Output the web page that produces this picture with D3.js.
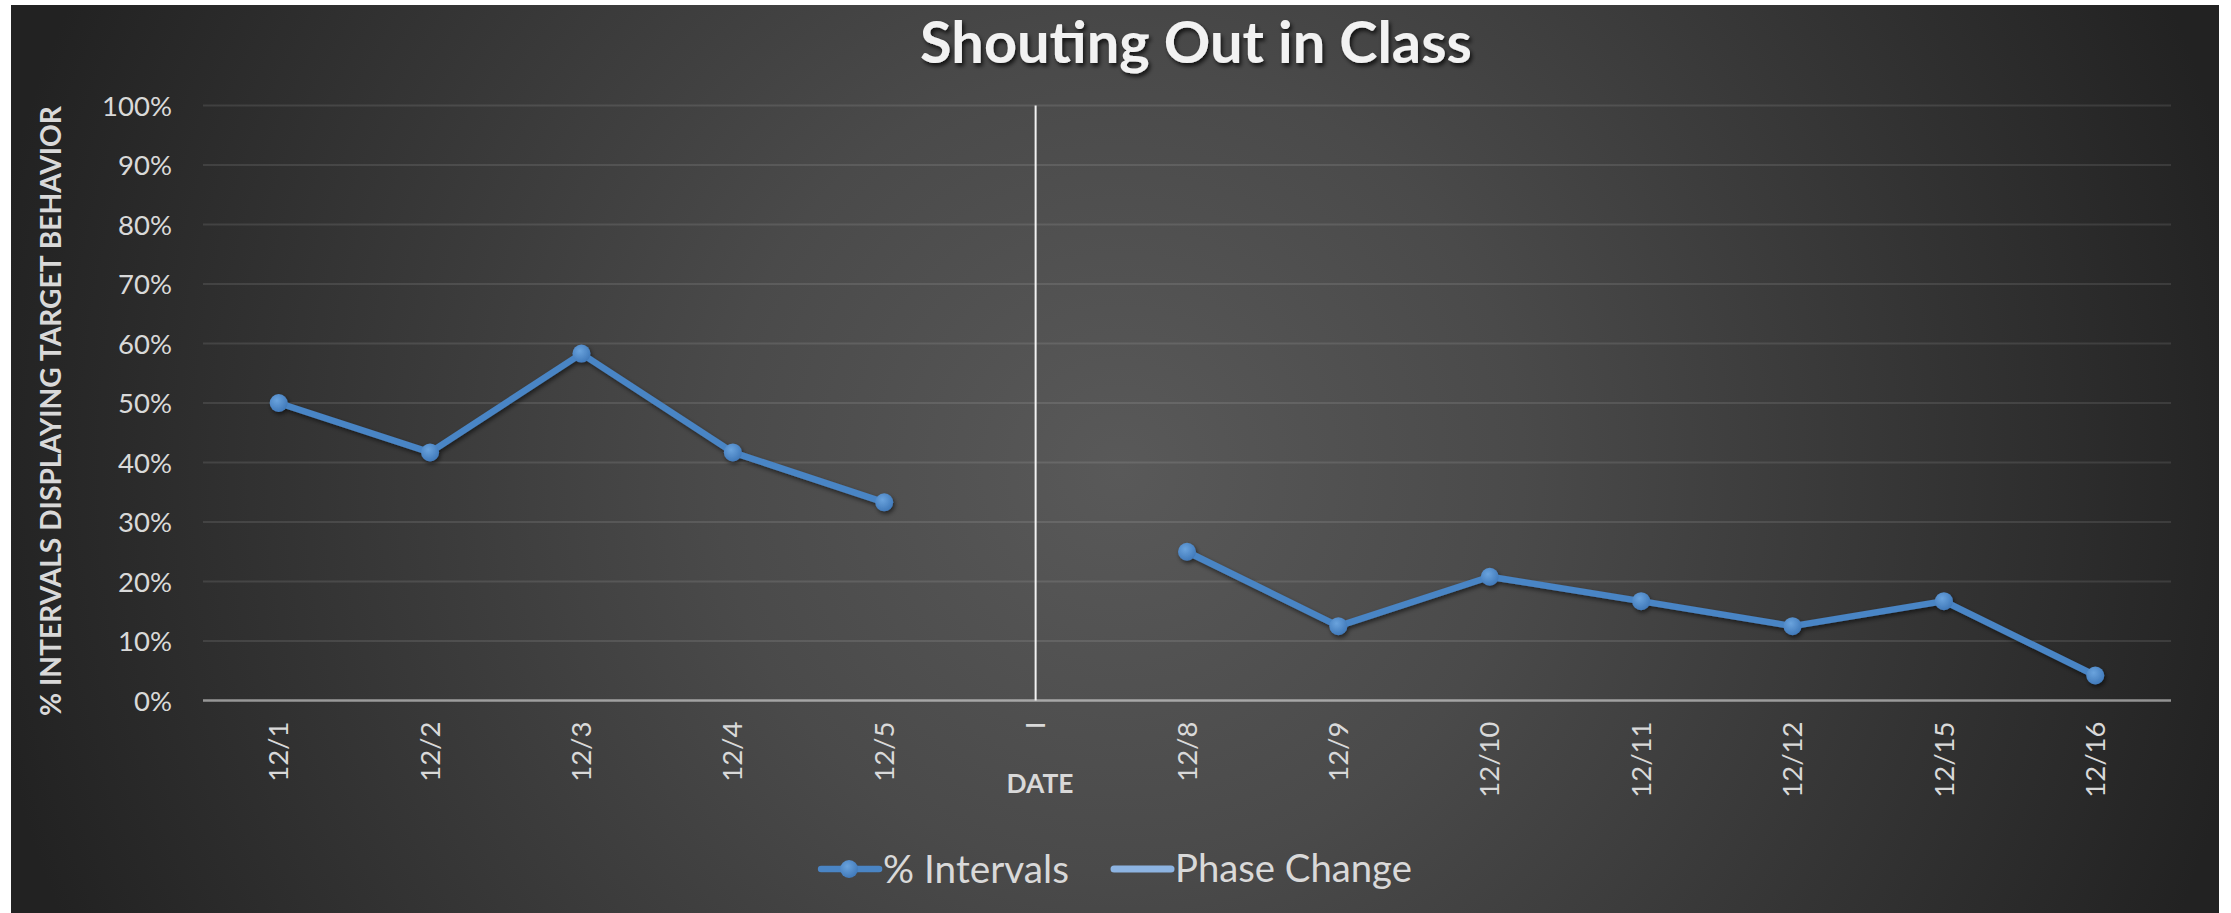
<!DOCTYPE html>
<html><head><meta charset="utf-8">
<script src="https://cdn.jsdelivr.net/npm/d3@7/dist/d3.min.js"></script>
<style>html,body{margin:0;padding:0;background:#fff;overflow:hidden}</style>
</head><body>
<svg id="chart" width="2231" height="913"></svg>
<script>
// ---------------- data ----------------
const categories = ["12/1","12/2","12/3","12/4","12/5","I","12/8","12/9","12/10","12/11","12/12","12/15","12/16"];
const intervals  = [50, 41.7, 58.3, 41.7, 33.3, null, 25, 12.5, 20.8, 16.7, 12.5, 16.7, 4.2];
const phaseCategory = "I";
const phaseExtent = [0, 100];
const yTicks = [0, 10, 20, 30, 40, 50, 60, 70, 80, 90, 100];
const seriesNames = ["% Intervals", "Phase Change"];
const chartTitle = "Shouting Out in Class";
const xTitle = "DATE";
const yTitle = "% INTERVALS DISPLAYING TARGET BEHAVIOR";

// ---------------- layout ----------------
const FONT = "Lato, 'Open Sans', sans-serif";
const plot = {left: 203, right: 2171, top: 105.5, bottom: 700.5};
const svg = d3.select('#chart');
const defs = svg.append('defs');

const bg = defs.append('radialGradient').attr('id','bg')
  .attr('gradientUnits','userSpaceOnUse').attr('cx',1120).attr('cy',470).attr('r',1150);
bg.append('stop').attr('offset',0).attr('stop-color','#595959');
bg.append('stop').attr('offset',0.35).attr('stop-color','#4a4a4a');
bg.append('stop').attr('offset',1).attr('stop-color','#222222');

const pg = defs.append('radialGradient').attr('id','pt').attr('cx','0.4').attr('cy','0.35').attr('r','0.7');
pg.append('stop').attr('offset',0).attr('stop-color','#6aa3dd');
pg.append('stop').attr('offset',1).attr('stop-color','#3e77b8');

const sh = defs.append('filter').attr('id','shadow').attr('x','-20%').attr('y','-20%').attr('width','140%').attr('height','140%');
sh.append('feDropShadow').attr('dx',1.5).attr('dy',2.5).attr('stdDeviation',2).attr('flood-color','#000').attr('flood-opacity',0.55);
const tsh = defs.append('filter').attr('id','tshadow').attr('x','-10%').attr('y','-30%').attr('width','120%').attr('height','160%');
tsh.append('feDropShadow').attr('dx',2).attr('dy',3).attr('stdDeviation',2.2).attr('flood-color','#000').attr('flood-opacity',0.75);

svg.append('rect').attr('x',11).attr('y',5).attr('width',2208).attr('height',913).attr('fill','url(#bg)');

function fit(sel, target) {
  const fs = parseFloat(sel.attr('font-size'));
  const w = sel.node().getComputedTextLength();
  sel.attr('font-size', fs * target / w);
}

// ---------------- scales ----------------
const x = d3.scaleBand().domain(categories).range([plot.left, plot.right]);
const y = d3.scaleLinear().domain([0, 100]).range([plot.bottom, plot.top]);
const cx = d => x(d) + x.bandwidth() / 2;

// gridlines
svg.append('g').selectAll('line').data(yTicks.filter(t => t > 0)).join('line')
  .attr('x1', plot.left).attr('x2', plot.right)
  .attr('y1', d => y(d)).attr('y2', d => y(d))
  .attr('stroke', 'rgba(255,255,255,0.1)').attr('stroke-width', 2);

// y axis
const yAxis = svg.append('g').attr('transform', `translate(${plot.left},0)`)
  .call(d3.axisLeft(y).tickValues(yTicks).tickFormat(d => d + '%').tickSize(0).tickPadding(31));
yAxis.select('.domain').remove();
yAxis.selectAll('text').attr('font-family', FONT).attr('font-size', 27.5).attr('fill', '#d9d9d9').attr('dy','0.35em');

// x axis
const xAxis = svg.append('g').attr('transform', `translate(0,${plot.bottom})`)
  .call(d3.axisBottom(x).tickSize(0));
xAxis.select('.domain').remove();
xAxis.selectAll('text')
  .attr('font-family', FONT).attr('font-size', 27.5).attr('fill', '#d9d9d9')
  .attr('transform', 'rotate(-90)').attr('text-anchor', 'end')
  .attr('x', -21).attr('y', 0).attr('dy', '0.35em');

svg.append('line').attr('x1', plot.left).attr('x2', plot.right)
  .attr('y1', plot.bottom).attr('y2', plot.bottom)
  .attr('stroke', 'rgba(255,255,255,0.5)').attr('stroke-width', 2.5);

// phase change line
svg.append('line')
  .attr('x1', cx(phaseCategory)).attr('x2', cx(phaseCategory))
  .attr('y1', y(phaseExtent[0])).attr('y2', y(phaseExtent[1]))
  .attr('stroke', '#f2f2f2').attr('stroke-width', 2);

// series
const pts = categories.map((c, i) => ({c, v: intervals[i]}));
const line = d3.line().defined(d => d.v != null).x(d => cx(d.c)).y(d => y(d.v));
const sg = svg.append('g').attr('filter', 'url(#shadow)');
sg.append('path').datum(pts).attr('d', line).attr('fill', 'none')
  .attr('stroke', '#4a85c5').attr('stroke-width', 6.5).attr('stroke-linejoin', 'round');
sg.selectAll('circle').data(pts.filter(d => d.v != null)).join('circle')
  .attr('cx', d => cx(d.c)).attr('cy', d => y(d.v)).attr('r', 9).attr('fill', 'url(#pt)');

// titles
const t = svg.append('text').text(chartTitle).attr('x', 1196).attr('y', 63)
  .attr('text-anchor', 'middle').attr('font-family', FONT).attr('font-weight', 'bold')
  .attr('font-size', 44).attr('fill', '#f2f2f2').attr('filter', 'url(#tshadow)');
fit(t, 552);

const xt = svg.append('text').text(xTitle).attr('x', 1040).attr('y', 793)
  .attr('text-anchor', 'middle').attr('font-family', FONT).attr('font-weight', 'bold')
  .attr('font-size', 26).attr('fill', '#d9d9d9');
fit(xt, 67);

const yt = svg.append('text').text(yTitle)
  .attr('transform', 'translate(51,411) rotate(-90)').attr('dy', '0.35em')
  .attr('text-anchor', 'middle').attr('font-family', FONT).attr('font-weight', 'bold')
  .attr('font-size', 28).attr('fill', '#d9d9d9');
fit(yt, 610);

// legend
const legY = 869;
const lg = svg.append('g');
const it1 = lg.append('g');
it1.append('line').attr('x1', 0).attr('x2', 58).attr('y1', legY).attr('y2', legY)
  .attr('stroke', '#4a85c5').attr('stroke-width', 6.5).attr('stroke-linecap', 'round');
it1.append('circle').attr('cx', 28).attr('cy', legY).attr('r', 9).attr('fill', 'url(#pt)');
const l1 = it1.append('text').text(seriesNames[0]).attr('x', 62).attr('y', legY).attr('dy', '0.35em')
  .attr('font-family', FONT).attr('font-size', 38).attr('fill', '#d9d9d9');
fit(l1, 186);
const w1 = 62 + l1.node().getComputedTextLength();
const it2 = lg.append('g').attr('transform', `translate(${w1 + 45},0)`);
it2.append('line').attr('x1', 0).attr('x2', 57).attr('y1', legY).attr('y2', legY)
  .attr('stroke', '#8db4e2').attr('stroke-width', 7).attr('stroke-linecap', 'round');
const l2 = it2.append('text').text(seriesNames[1]).attr('x', 61).attr('y', legY).attr('dy', '0.35em')
  .attr('font-family', FONT).attr('font-size', 38).attr('fill', '#d9d9d9');
fit(l2, 237);
const totalW = w1 + 45 + 61 + l2.node().getComputedTextLength();
lg.attr('transform', `translate(${1116.5 - totalW / 2},0)`);
</script>
</body></html>
